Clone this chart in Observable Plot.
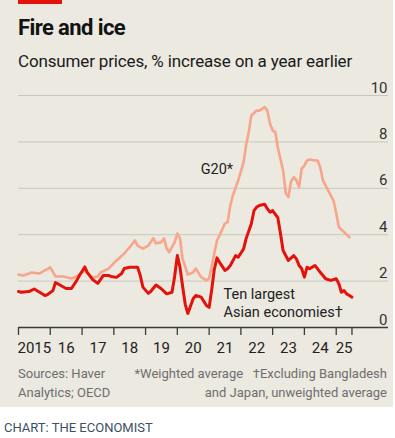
<!DOCTYPE html>
<html><head><meta charset="utf-8">
<script src="https://cdn.jsdelivr.net/npm/d3@7"></script>
<script src="https://cdn.jsdelivr.net/npm/@observablehq/plot@0.6"></script>
<style>
body{margin:0;background:#fff;font-family:Roboto,"Noto Sans",sans-serif;}
#wrap{position:relative;width:395px;height:438px;overflow:hidden;}
#panel{position:absolute;left:0;top:0;width:393px;height:407px;background:#ebe9e0;}
#tag{position:absolute;left:18px;top:0;width:44px;height:4px;background:#e3120b;}
.t{position:absolute;white-space:nowrap;line-height:1;}
#title{left:18px;top:16.5px;font-size:22px;font-weight:700;color:#121212;letter-spacing:-0.6px;}
#sub{left:18px;top:52.5px;font-size:17px;color:#1a1a1a;letter-spacing:-0.15px;}
.fn{font-size:13px;color:#6e6e6e;}
#chart{position:absolute;left:0;top:74px;}
</style></head>
<body>
<div id="wrap">
  <div id="panel"></div>
  <div id="tag"></div>
  <div class="t" id="title">Fire and ice</div>
  <div class="t" id="sub">Consumer prices, % increase on a year earlier</div>
  <div id="chart"></div>
  <div class="t fn" style="left:18px;top:367px;">Sources: Haver</div>
  <div class="t fn" style="left:18px;top:386px;">Analytics; OECD</div>
  <div class="t fn" style="right:8px;top:367px;">*Weighted average&nbsp;&nbsp;&nbsp;†Excluding Bangladesh</div>
  <div class="t fn" style="right:8px;top:386px;">and Japan, unweighted average</div>
  <div class="t" style="left:4px;top:421px;font-size:13px;color:#3d4f63;">CHART: THE ECONOMIST</div>
</div>
<script>
const g20Dates = ["2015-01","2015-03","2015-06","2015-09","2015-11","2016-01","2016-03","2016-06","2016-09","2016-11","2017-02","2017-05","2017-07","2017-08","2017-11","2018-02","2018-05","2018-07","2018-09","2018-10","2018-12","2019-02","2019-04","2019-05","2019-07","2019-08","2019-09","2019-10","2019-12","2020-01","2020-02","2020-03","2020-05","2020-07","2020-08","2020-10","2020-12","2021-01","2021-02","2021-03","2021-04","2021-05","2021-07","2021-08","2021-09","2021-10","2021-12","2022-02","2022-03","2022-04","2022-05","2022-07","2022-08","2022-10","2022-11","2022-12","2023-01","2023-02","2023-03","2023-05","2023-06","2023-07","2023-08","2023-09","2023-10","2023-11","2023-12","2024-01","2024-02","2024-03","2024-05","2024-06","2024-07","2024-08","2024-10","2024-12","2025-01","2025-02","2025-04","2025-06"];
const g20Vals = [2.28,2.24,2.37,2.33,2.46,2.59,2.2,2.2,2.11,2.2,2.45,2.15,2.2,2.37,2.54,2.89,3.19,3.45,3.75,3.53,3.4,3.53,3.85,3.62,3.68,3.84,3.4,3.25,3.68,4.05,3.84,2.97,2.28,2.38,2.54,2.17,2.03,2.11,2.67,3.2,3.75,3.97,4.48,4.54,5.26,5.69,6.34,7.13,7.84,8.42,9.14,9.35,9.35,9.5,9.35,8.79,8.49,8.42,7.77,6.77,5.78,5.62,6.3,6.48,6.34,6.05,6.85,6.98,7.2,7.24,7.2,7.2,6.91,6.34,5.9,5.47,4.91,4.32,4.11,3.89];

const asiaDates = ["2015-01","2015-02","2015-05","2015-07","2015-09","2015-11","2015-12","2016-02","2016-03","2016-05","2016-07","2016-09","2016-11","2016-12","2017-02","2017-03","2017-05","2017-07","2017-09","2017-11","2017-12","2018-02","2018-04","2018-05","2018-07","2018-10","2018-11","2018-12","2019-02","2019-03","2019-05","2019-07","2019-09","2019-11","2019-12","2020-01","2020-02","2020-03","2020-04","2020-05","2020-07","2020-08","2020-10","2020-12","2021-01","2021-02","2021-03","2021-04","2021-05","2021-07","2021-08","2021-09","2021-11","2021-12","2022-02","2022-03","2022-05","2022-06","2022-07","2022-08","2022-10","2022-11","2022-12","2023-01","2023-03","2023-04","2023-05","2023-07","2023-09","2023-10","2023-11","2023-12","2024-01","2024-02","2024-03","2024-05","2024-06","2024-07","2024-09","2024-11","2025-01","2025-02","2025-03","2025-04","2025-05","2025-06","2025-07"];
const asiaVals = [1.55,1.52,1.55,1.66,1.52,1.38,1.42,1.59,1.94,1.81,1.68,1.68,2.03,2.24,2.61,2.38,2.07,1.9,2.24,2.24,2.2,2.16,2.33,2.54,2.6,2.6,2.24,1.74,1.47,1.55,1.83,1.67,1.45,1.52,2.2,3.1,2.59,1.8,1.0,0.6,1.24,1.38,1.31,0.95,0.87,1.67,2.5,3.0,2.81,2.46,2.53,2.67,3.1,3.03,3.39,3.82,4.47,5.04,5.19,5.26,5.31,5.12,4.97,5.04,4.74,4.05,3.32,2.89,3.1,2.96,2.67,2.53,2.17,2.6,2.53,2.67,2.53,2.38,2.1,2.03,2.1,1.88,1.52,1.59,1.45,1.38,1.31];

const xTickDates = ["2015-01","2016-01","2017-01","2018-01","2019-01","2020-01","2021-01","2022-01","2023-01","2024-01","2025-01","2025-07"];
const xTickLabels = ["2015","16","17","18","19","20","21","22","23","24","25"];
const yTicks = [0,2,4,6,8,10];
const seriesLabels = [
  {date:"2020-09-25", value:6.87, text:"G20*"},
  {date:"2021-06-15", value:1.08, text:"Ten largest\nAsian economies†"}
];

const parse = s => new Date(s.length === 7 ? s + "-01T00:00:00Z" : s + "T00:00:00Z");
const g20 = g20Dates.map((d,i)=>({date:parse(d), v:g20Vals[i]}));
const asia = asiaDates.map((d,i)=>({date:parse(d), v:asiaVals[i]}));
const ticks = xTickDates.map(parse);
const labelPos = xTickLabels.map((l,i)=>({date:new Date((+ticks[i] + +ticks[i+1])/2), label:l}));
const labels = seriesLabels.map(d=>({...d, date:parse(d.date)}));

const chart = Plot.plot({
  width:395, height:290,
  marginLeft:18, marginRight:7, marginTop:21, marginBottom:37,
  style:{background:"transparent", fontFamily:"Roboto, 'Noto Sans', sans-serif"},
  x:{type:"utc", domain:[parse("2015-01"), parse("2026-08-25")], axis:null},
  y:{type:"linear", domain:[0,10], axis:null},
  marks:[
    Plot.ruleY(yTicks.filter(d=>d>0), {stroke:"#c9c8be", strokeWidth:1}),
    Plot.text(yTicks, {y:d=>d, text:d=>String(d), frameAnchor:"right", textAnchor:"end", lineAnchor:"bottom", dy:-3, dx:-1, fontSize:15, fill:"#333"}),
    Plot.line(g20, {x:"date", y:"v", stroke:"#f7a58b", strokeWidth:2.6, strokeLinejoin:"round"}),
    Plot.line(asia, {x:"date", y:"v", stroke:"#e3120b", strokeWidth:3, strokeLinejoin:"round"}),
    Plot.ruleY([0], {stroke:"#3a3a3a", strokeWidth:1.3}),
    Plot.axisX({ticks:ticks, tickSize:8, tickFormat:()=>"", stroke:"#3a3a3a", strokeWidth:1.3, label:null}),
    Plot.text(labelPos, {x:"date", text:"label", frameAnchor:"bottom", lineAnchor:"bottom", dy:25, fontSize:15, fill:"#222"}),
    Plot.text(labels, {x:"date", y:"value", text:"text", textAnchor:"start", lineAnchor:"middle", fontSize:14.5, lineHeight:1.25, fill:"#222"})
  ]
});
document.getElementById("chart").appendChild(chart);
</script>
</body></html>
